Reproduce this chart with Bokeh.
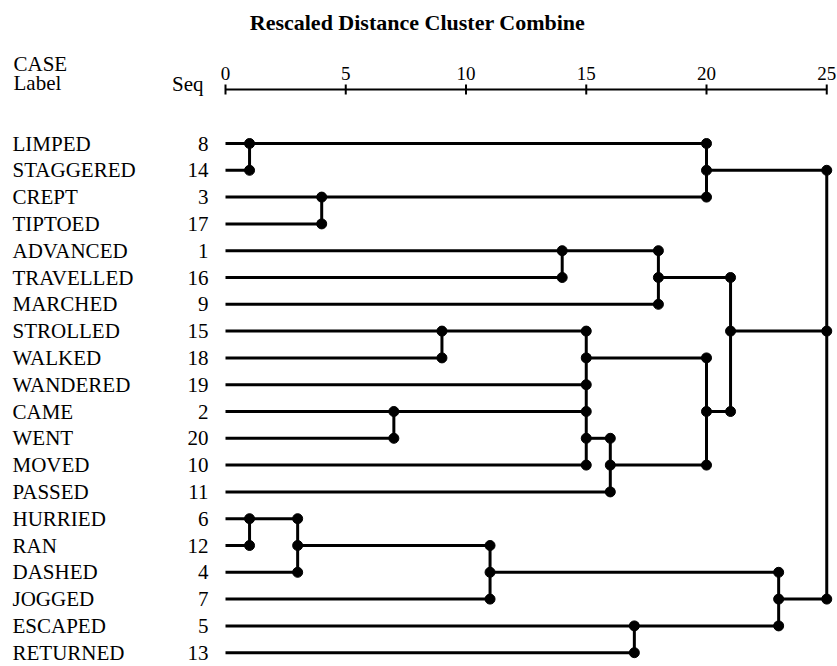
from bokeh.plotting import figure
from bokeh.models import Range1d, ColumnDataSource
from bokeh.core.properties import value
from bokeh.embed import file_html
from bokeh.resources import INLINE

# ---------------- data ----------------
labels = ["LIMPED", "STAGGERED", "CREPT", "TIPTOED", "ADVANCED", "TRAVELLED",
          "MARCHED", "STROLLED", "WALKED", "WANDERED", "CAME", "WENT", "MOVED",
          "PASSED", "HURRIED", "RAN", "DASHED", "JOGGED", "ESCAPED", "RETURNED"]
seq = [8, 14, 3, 17, 1, 16, 9, 15, 18, 19, 2, 20, 10, 11, 6, 12, 4, 7, 5, 13]

# agglomeration steps: rescaled distance and the joined items (leaf names or "c<k>")
merge_dist = [1, 4, 20, 14, 18, 9, 7, 15, 15, 16, 20, 21, 1, 3, 11, 17, 23, 25]
merge_members = [
    ["LIMPED", "STAGGERED"],   # c0
    ["CREPT", "TIPTOED"],      # c1
    ["c0", "c1"],              # c2
    ["ADVANCED", "TRAVELLED"], # c3
    ["c3", "MARCHED"],         # c4
    ["STROLLED", "WALKED"],    # c5
    ["CAME", "WENT"],          # c6
    ["c5", "WANDERED"],        # c7
    ["c6", "MOVED"],           # c8
    ["c8", "PASSED"],          # c9
    ["c7", "c9"],              # c10
    ["c4", "c10"],             # c11
    ["HURRIED", "RAN"],        # c12
    ["c12", "DASHED"],         # c13
    ["c13", "JOGGED"],         # c14
    ["ESCAPED", "RETURNED"],   # c15
    ["c14", "c15"],            # c16
    ["c2", "c11", "c16"],      # c17
]
tick_values = [0, 5, 10, 15, 20, 25]
title_text = "Rescaled Distance Cluster Combine"
header_case = "CASE"
header_label = "Label"
header_seq = "Seq"

# ---------------- layout (pixels) ----------------
W, H = 837, 666
PX_PER_UNIT = 24.05
X0_PX = 225.0      # px of distance 0
ROW0 = 143.0       # px of first row
ROW_H = 26.8
FONT = "Liberation Serif"


def xd(px):
    return (px - X0_PX) / PX_PER_UNIT


def yd(py):
    return (py - ROW0) / ROW_H


# ---------------- dendrogram geometry ----------------
row_of = {name: i for i, name in enumerate(labels)}
referenced = set(m for ms in merge_members for m in ms)
out_row = []
hx0, hx1, hy = [], [], []
vx, vy0, vy1 = [], [], []
dx, dy = [], []
spans = []
for k, members in enumerate(merge_members):
    d = merge_dist[k]
    rows = []
    for m in members:
        if m in row_of:
            r, s = row_of[m], 0
        else:
            j = int(m[1:])
            r, s = out_row[j], merge_dist[j]
        hx0.append(s); hx1.append(d); hy.append(r)
        rows.append(r)
    lo, hi = min(rows), max(rows)
    vx.append(d); vy0.append(lo); vy1.append(hi)
    o = (lo + hi) // 2
    out_row.append(o)
    dots = set(rows)
    if f"c{k}" in referenced:
        dots.add(o)
    for r in sorted(dots):
        dx.append(d); dy.append(r)
    spans.append((d, lo, hi))

# same-level steps on adjacent rows are drawn as one bar
for a in spans:
    for b in spans:
        if a[0] == b[0] and a[2] + 1 == b[1]:
            vx.append(a[0]); vy0.append(a[2]); vy1.append(b[1])

p = figure(width=W, height=H,
           x_range=Range1d(xd(0), xd(W)), y_range=Range1d(yd(H), yd(0)),
           x_axis_location=None, y_axis_location=None,
           toolbar_location=None, output_backend="svg",
           min_border=0)
p.outline_line_color = None
p.grid.visible = False
p.background_fill_color = "white"
p.border_fill_color = "white"

# top scale (rescaled distance axis)
axis_y = yd(89)
p.segment(x0=[tick_values[0]], x1=[tick_values[-1]], y0=[axis_y], y1=[axis_y],
          line_color="black", line_width=2)
p.segment(x0=tick_values, x1=tick_values, y0=[yd(84)] * len(tick_values),
          y1=[yd(94)] * len(tick_values), line_color="black", line_width=2)
p.text(x=tick_values, y=[yd(73)] * len(tick_values), text=[str(t) for t in tick_values],
       text_font=value(FONT), text_font_size="19px", text_align="center",
       text_baseline="middle", text_color="black")

# dendrogram
p.segment(x0=hx0, y0=hy, x1=hx1, y1=hy, line_color="black", line_width=3)
p.segment(x0=vx, y0=vy0, x1=vx, y1=vy1, line_color="black", line_width=3)
p.scatter(x=dx, y=dy, marker="circle", size=10, fill_color="black", line_color="black")

# case labels and sequence numbers
rows = list(range(len(labels)))
src = ColumnDataSource(dict(y=rows, lab=labels, seq=[str(s) for s in seq],
                            xl=[xd(12)] * len(labels), xs=[xd(208)] * len(labels)))
p.text(x="xl", y="y", text="lab", source=src, text_font=value(FONT),
       text_font_size="21px", text_align="left", text_baseline="middle", text_color="black")
p.text(x="xs", y="y", text="seq", source=src, text_font=value(FONT),
       text_font_size="21px", text_align="right", text_baseline="middle", text_color="black")

# headers and title
p.text(x=[xd(417)], y=[yd(22)], text=[title_text], text_font=value(FONT),
       text_font_style="bold", text_font_size="22px", text_align="center",
       text_baseline="middle", text_color="black")
p.text(x=[xd(13), xd(13)], y=[yd(63), yd(82)], text=[header_case, header_label],
       text_font=value(FONT), text_font_size="21px", text_align="left",
       text_baseline="middle", text_color="black")
p.text(x=[xd(203)], y=[yd(83)], text=[header_seq], text_font=value(FONT),
       text_font_size="21px", text_align="right", text_baseline="middle", text_color="black")

open("out.html", "w").write(file_html(p, INLINE))
